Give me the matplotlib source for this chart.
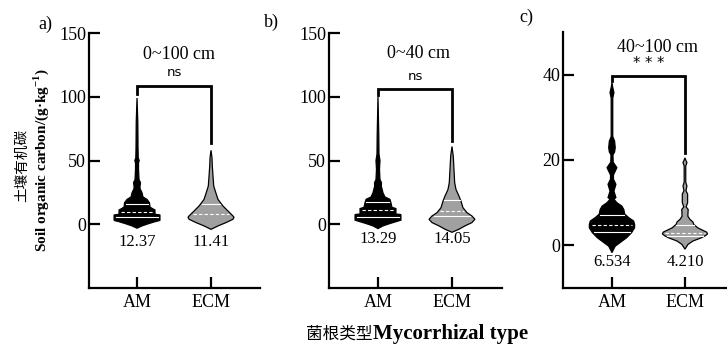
import numpy as np
import matplotlib
matplotlib.use("Agg")
import matplotlib.pyplot as plt

plt.rcParams['font.family'] = ['Liberation Serif', 'DejaVu Serif']
plt.rcParams['mathtext.fontset'] = 'custom'
plt.rcParams['mathtext.rm'] = 'Liberation Serif'
plt.rcParams['mathtext.bf'] = 'Liberation Serif:bold'

# ---------------- data ----------------
categories = ["AM", "ECM"]
panel_labels = ["a)", "b)", "c)"]
panel_titles = ["0~100 cm", "0~40 cm", "40~100 cm"]
significance = ["ns", "ns", "***"]
mean_labels = [["12.37", "11.41"], ["13.29", "14.05"], ["6.534", "4.210"]]

# violin profiles: SOC level (g/kg) and relative density
am_a_y = [-3.1, -1.3, 0.3, 2.0, 3.0, 7.3, 7.9, 8.5, 11.2, 12.5, 13.5, 16.9, 19.5, 21.4, 24.7,
          28, 30, 32.6, 35, 43, 48, 50, 52, 60, 80, 99]
am_a_d = [0, 5, 11, 18, 23, 23, 17, 18, 18, 15, 13, 12.5, 10, 6, 5,
          3, 3, 3.5, 2, 1.5, 1.5, 2.2, 1.2, 1, 0.8, 0]
ecm_a_y = [-4, -1.3, 1.3, 3.9, 5.5, 6.5, 10.4, 14.3, 19.5, 25, 30, 37.7, 45.5, 52, 58]
ecm_a_d = [0, 7, 15, 22, 23, 22, 17, 12, 7, 4.7, 2.7, 2, 1.3, 1, 0]

am_b_y = [-3.4, -1.3, 0.3, 2.0, 3.2, 7.6, 8.2, 9.1, 12.3, 13.3, 16.9, 19.5, 21.4, 24.7,
          30, 32.6, 35, 43, 50, 55, 70, 100]
am_b_d = [0, 5, 11, 18, 23, 23, 17, 18, 18, 14, 13, 12, 7, 5,
          3.3, 3.5, 2, 1.5, 2, 1, 0.8, 0]
ecm_b_y = [-6.3, -3.9, -1.3, 1.3, 3.9, 6.5, 9.1, 13, 18.2, 22.1, 27.3, 32.6, 43, 53.4, 61]
ecm_b_d = [0, 7, 13, 20, 23, 20, 15, 11, 9, 7, 4, 2.7, 2, 1.3, 0]

am_c_y = [-1.7, -0.2, 0.6, 1.8, 3.0, 4.1, 4.9, 5.7, 6.5, 7.3, 8.4, 9.2, 10.0, 10.8, 11.2, 12.7,
          14.3, 15.5, 16.5, 18.2, 19.5, 21.2, 21.9, 22.9, 24.4, 25.5, 34.5, 35.8, 37, 38.1]
am_c_d = [0, 3.3, 8, 15, 20, 23, 23, 22, 17, 13, 12, 10, 5, 2, 4, 2,
          4, 1.5, 1.5, 5, 1.2, 1, 2.7, 3.3, 2.7, 0.8, 0.8, 2, 0.8, 0]
ecm_c_y = [-0.9, 0.2, 1.0, 1.8, 2.3, 2.7, 3.1, 4.1, 4.9, 5.5, 6.1, 6.8, 7.3, 8.4, 9.0, 10, 11, 12,
           12.8, 13.9, 14.8, 18.6, 19.4, 20.0, 20.5]
ecm_c_d = [0, 3, 8, 17, 21, 23, 22, 13, 9, 8, 5, 3, 3, 3.3, 1.2, 2.7, 2.7, 2.7,
           1, 2, 0.8, 0.8, 2, 0.8, 0]

# quartiles [Q1, median, Q3]
am_a_q = [5.4, 9.8, 16.2]
ecm_a_q = [np.nan, 7.8, 16.2]
am_b_q = [5.8, 10.9, 17.4]
ecm_b_q = [6.5, 10.4, 19.0]
am_c_q = [3.1, 4.8, 7.1]
ecm_c_q = [2.2, 2.9, 4.7]

panels = [
    dict(profiles=[(am_a_y, am_a_d, am_a_q), (ecm_a_y, ecm_a_d, ecm_a_q)],
         ylim=(-50, 150), yticks=[0, 50, 100, 150], xlim=(0.351, 2.662),
         rect=(89, 33, 260, 288), title_y=133, sig_y=119, title_x=1.57,
         bracket=(108.6, 102, 64), mean_y=-13.8, lab=(45, 24)),
    dict(profiles=[(am_b_y, am_b_d, am_b_q), (ecm_b_y, ecm_b_d, ecm_b_q)],
         ylim=(-50, 150), yticks=[0, 50, 100, 150], xlim=(0.338, 2.676),
         rect=(329, 33, 502, 288), title_y=134, sig_y=115.5, title_x=1.55,
         bracket=(106, 101, 65), mean_y=-11.7, lab=(271, 22)),
    dict(profiles=[(am_c_y, am_c_d, am_c_q), (ecm_c_y, ecm_c_d, ecm_c_q)],
         ylim=(-10, 50), yticks=[0, 20, 40], xlim=(0.329, 2.576),
         rect=(563, 32, 727, 288), title_y=46.4, sig_y=42.6, title_x=1.62,
         bracket=(39.8, 38.6, 21.6), mean_y=-4.0, lab=(526, 17)),
]

W, H = 727, 351
fig = plt.figure(figsize=(W / 100, H / 100), dpi=100)
fills = ["black", "#a0a0a0"]
MAX_HALF = 0.31
LW = 1.6

for i, p in enumerate(panels):
    x0, y0, x1, y1 = p["rect"]
    ax = fig.add_axes([x0 / W, 1 - y1 / H, (x1 - x0) / W, (y1 - y0) / H])
    for j, (yy, dd, qq) in enumerate(p["profiles"]):
        yy = np.asarray(yy, float)
        dd = np.asarray(dd, float)
        hw = dd / dd.max() * MAX_HALF
        hw = np.maximum(hw, 0.006)
        hw[0] = 0
        hw[-1] = 0
        pos = j + 1
        xs = np.concatenate([pos - hw, (pos + hw)[::-1]])
        ys = np.concatenate([yy, yy[::-1]])
        ax.fill(xs, ys, facecolor=fills[j], edgecolor="black", linewidth=0.9, zorder=2)
        for k, q in enumerate(qq):
            if np.isnan(q):
                continue
            w = np.interp(q, yy, hw) * 0.9
            ax.plot([pos - w, pos + w], [q, q], color="white",
                    linewidth=0.8, linestyle=(0, (3, 2)) if k == 1 else "-", zorder=3)
        ax.text(pos, p["mean_y"], mean_labels[i][j], ha="center", va="center", fontsize=12)
    top, lleg, rleg = p["bracket"]
    ax.plot([1, 1, 2, 2], [lleg, top, top, rleg], color="black", linewidth=2.0,
            solid_joinstyle="miter", zorder=3)
    ax.text(p["title_x"], p["title_y"], panel_titles[i], ha="center", va="center", fontsize=13)
    if significance[i] == "ns":
        ax.text(1.5, p["sig_y"], "ns", ha="center", va="center", fontsize=9.5,
                family="DejaVu Sans")
    else:
        ax.text(1.5, p["sig_y"], "* * *", ha="center", va="center", fontsize=10.5,
                family="DejaVu Sans")
    ax.set_xlim(*p["xlim"])
    ax.set_ylim(*p["ylim"])
    ax.set_yticks(p["yticks"])
    ax.set_xticks([1, 2])
    ax.set_xticklabels(categories)
    for s in ["top", "right"]:
        ax.spines[s].set_visible(False)
    for s in ["left", "bottom"]:
        ax.spines[s].set_linewidth(LW)
    ax.tick_params(axis="y", direction="in", length=8, width=LW, labelsize=13, pad=2)
    ax.tick_params(axis="x", direction="in", length=8, width=LW, labelsize=13, pad=4)
    ax.patch.set_visible(False)
    fig.text(p["lab"][0] / W, 1 - p["lab"][1] / H, panel_labels[i], ha="center",
             va="center", fontsize=13)

# y label (two lines)
fig.text(22 / W, 1 - 165 / H, "土壤有机碳", rotation=90, ha="center", va="center",
         fontsize=10.5, family=["Noto Sans CJK SC", "DejaVu Sans"])
fig.text(41 / W, 1 - 160 / H, r"Soil organic carbon/(g·kg$^{\mathbf{-1}}$)", rotation=90,
         ha="center", va="center", fontsize=11, fontweight="bold")

# x label (Chinese + bold English)
fig.text(373 / W, 1 - 334 / H, "菌根类型", ha="right", va="center", fontsize=12,
         family=["Noto Sans CJK SC", "DejaVu Sans"])
fig.text(373 / W, 1 - 334 / H, "Mycorrhizal type", ha="left", va="center", fontsize=15,
         fontweight="bold")

fig.savefig("out.png", dpi=100)
